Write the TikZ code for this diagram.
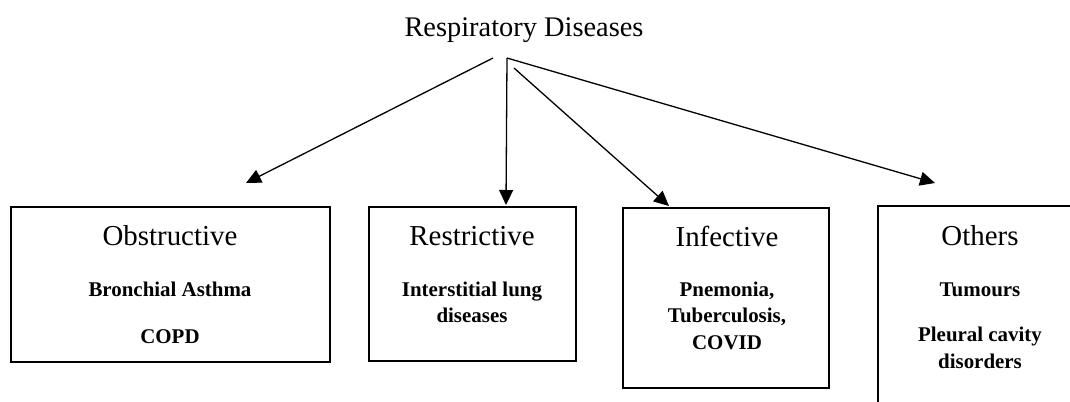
\documentclass[tikz,border=0pt]{standalone}
\usepackage{fontspec}
\setmainfont{Liberation Serif}
\usetikzlibrary{arrows.meta}

\tikzset{
  frame/.style={draw=black, line width=1.5bp, fill=none},
  heading/.style={anchor=base, font=\fontsize{28.5}{30}\selectfont, inner sep=0pt},
  grouptitle/.style={anchor=base, font=\fontsize{29}{30}\selectfont, inner sep=0pt},
  item/.style={anchor=base, font=\fontsize{21}{26.7}\selectfont\bfseries, inner sep=0pt},
  branch/.style={draw=black, line width=1.3bp, -{Triangle[length=15bp, width=14bp]}}
}

\begin{document}
\begin{tikzpicture}[x=1bp, y=-1bp]
  % page frame
  \clip (0,0) rectangle (1070,401);
  \fill[white] (0,0) rectangle (1070,401);

  % title
  \node[heading] (title) at (524,36) {Respiratory Diseases};

  % category boxes
  \draw[frame] (11,207) rectangle (330,362);
  \draw[frame] (369,207) rectangle (576,361);
  \draw[frame] (623,208) rectangle (829,388);
  \draw[frame] (878,206) rectangle (1084,430);

  % box headings
  \node[grouptitle] (obs) at (170,245) {Obstructive};
  \node[grouptitle] (res) at (472,245) {Restrictive};
  \node[grouptitle] (inf) at (727,246.5) {Infective};
  \node[grouptitle] (oth) at (980,245) {Others};

  % box contents, one node per line
  \node[item] (obs1) at (170,296) {Bronchial Asthma};
  \node[item] (obs2) at (170,343) {COPD};
  \node[item] (res1) at (472,296) {Interstitial lung};
  \node[item] (res2) at (472,322.7) {diseases};
  \node[item] (inf1) at (727,296) {Pnemonia,};
  \node[item] (inf2) at (727,322.7) {Tuberculosis,};
  \node[item] (inf3) at (727,349.4) {COVID};
  \node[item] (oth1) at (980,296) {Tumours};
  \node[item] (oth2) at (980,341.7) {Pleural cavity};
  \node[item] (oth3) at (980,368.4) {disorders};

  % arrow ends
  \coordinate (tailL) at (493,58);
  \coordinate (apex) at (507,58);
  \coordinate (tailI) at (514,68);
  \coordinate (tipO) at (246,183);
  \coordinate (tipR) at (506,205);
  \coordinate (tipI) at (669,206);
  \coordinate (tipT) at (935,183);

  % branches
  \draw[branch] (tailL) -- (tipO);
  \draw[branch] (apex) -- (tipR);
  \draw[branch] (tailI) -- (tipI);
  \draw[branch] (apex) -- (tipT);
\end{tikzpicture}
\end{document}
